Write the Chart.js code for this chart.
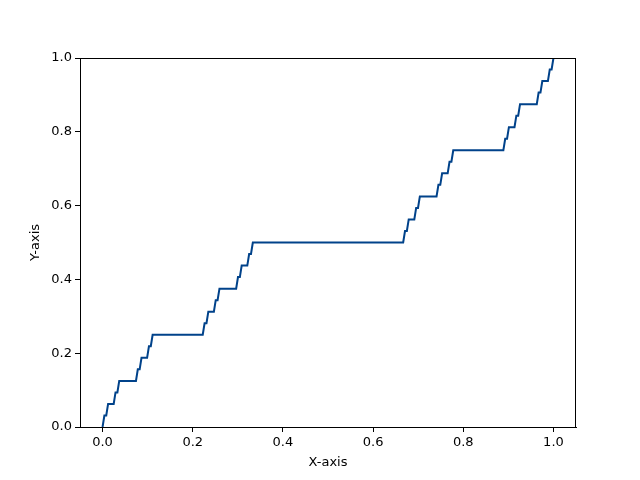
<!DOCTYPE html>
<html>
<head>
<meta charset="utf-8">
<script src="https://cdn.jsdelivr.net/npm/chart.js@4"></script>
<style>
  html, body { margin: 0; padding: 0; background: #fff; }
  #wrap { width: 640px; height: 480px; }
</style>
</head>
<body>
<div id="wrap"><canvas id="chart" width="640" height="480"></canvas></div>
<script>
// Escalones: inicio, fin y nivel de cada tramo plano
const stepStart = [0, 0.0041, 0.0123, 0.0288, 0.0370, 0.0782, 0.0864, 0.1029,
  0.1111, 0.2263, 0.2346, 0.2510, 0.2593, 0.3004, 0.3086, 0.3251,
  0.3333, 0.6708, 0.6790, 0.6955, 0.7037, 0.7449, 0.7531, 0.7695,
  0.7778, 0.8930, 0.9012, 0.9177, 0.9259, 0.9671, 0.9753, 0.9918, 1.0];
const stepEnd = [0, 0.0082, 0.0247, 0.0329, 0.0741, 0.0823, 0.0988, 0.1070,
  0.2222, 0.2305, 0.2469, 0.2551, 0.2963, 0.3045, 0.3210, 0.3292,
  0.6667, 0.6749, 0.6914, 0.6996, 0.7407, 0.7490, 0.7654, 0.7737,
  0.8889, 0.8971, 0.9136, 0.9218, 0.9630, 0.9712, 0.9877, 0.9959, 1.0];
const stepLevel = [0, 0.03125, 0.0625, 0.09375, 0.125, 0.15625, 0.1875, 0.21875,
  0.25, 0.28125, 0.3125, 0.34375, 0.375, 0.40625, 0.4375, 0.46875,
  0.5, 0.53125, 0.5625, 0.59375, 0.625, 0.65625, 0.6875, 0.71875,
  0.75, 0.78125, 0.8125, 0.84375, 0.875, 0.90625, 0.9375, 0.96875, 1.0];

const xTicks = [0.0, 0.2, 0.4, 0.6, 0.8, 1.0];
const yTicks = [0.0, 0.2, 0.4, 0.6, 0.8, 1.0];

// Puntos de la línea: cada tramo aporta su inicio y su fin
const points = [];
stepLevel.forEach((y, i) => {
  points.push({ x: stepStart[i], y });
  if (stepEnd[i] !== stepStart[i]) points.push({ x: stepEnd[i], y });
});

const font = { family: "DejaVu Sans", size: 13 };

// Marco completo alrededor del área del gráfico
const framePlugin = {
  id: "frame",
  afterDraw(chart) {
    const { ctx, chartArea: a } = chart;
    ctx.save();
    ctx.strokeStyle = "#000";
    ctx.lineWidth = 1;
    ctx.strokeRect(a.left + 0.5, a.top + 0.5, a.right - a.left - 1, a.bottom - a.top);
    ctx.restore();
  },
};

new Chart(document.getElementById("chart"), {
  type: "scatter",
  data: {
    datasets: [
      {
        data: points,
        showLine: true,
        borderColor: "#00428a",
        borderWidth: 2,
        pointRadius: 0,
        tension: 0,
      },
    ],
  },
  options: {
    responsive: false,
    animation: false,
    devicePixelRatio: 1,
    layout: { padding: { left: 24, top: 58, right: 64, bottom: 6 } },
    plugins: { legend: { display: false }, tooltip: { enabled: false } },
    scales: {
      x: {
        type: "linear",
        min: -0.05,
        max: 1.05,
        afterBuildTicks: (s) => { s.ticks = xTicks.map((v) => ({ value: v })); },
        afterFit: (s) => { s.height = 47; },
        ticks: {
          color: "#000",
          font,
          padding: 3,
          maxRotation: 0,
          callback: (v) => Number(v).toFixed(1),
        },
        grid: { drawOnChartArea: false, drawTicks: true, tickLength: 5, color: "#000" },
        border: { display: true, color: "#000" },
        title: { display: true, text: "X-axis", color: "#000", font, padding: { top: 2 } },
      },
      y: {
        type: "linear",
        min: 0,
        max: 1,
        afterBuildTicks: (s) => { s.ticks = yTicks.map((v) => ({ value: v })); },
        afterFit: (s) => { s.width = 56; },
        ticks: {
          color: "#000",
          font,
          padding: 3,
          callback: (v) => Number(v).toFixed(1),
        },
        grid: { drawOnChartArea: false, drawTicks: true, tickLength: 5, color: "#000" },
        border: { display: true, color: "#000" },
        title: { display: true, text: "Y-axis", color: "#000", font, padding: { bottom: 2 } },
      },
    },
  },
  plugins: [framePlugin],
});
</script>
</body>
</html>
